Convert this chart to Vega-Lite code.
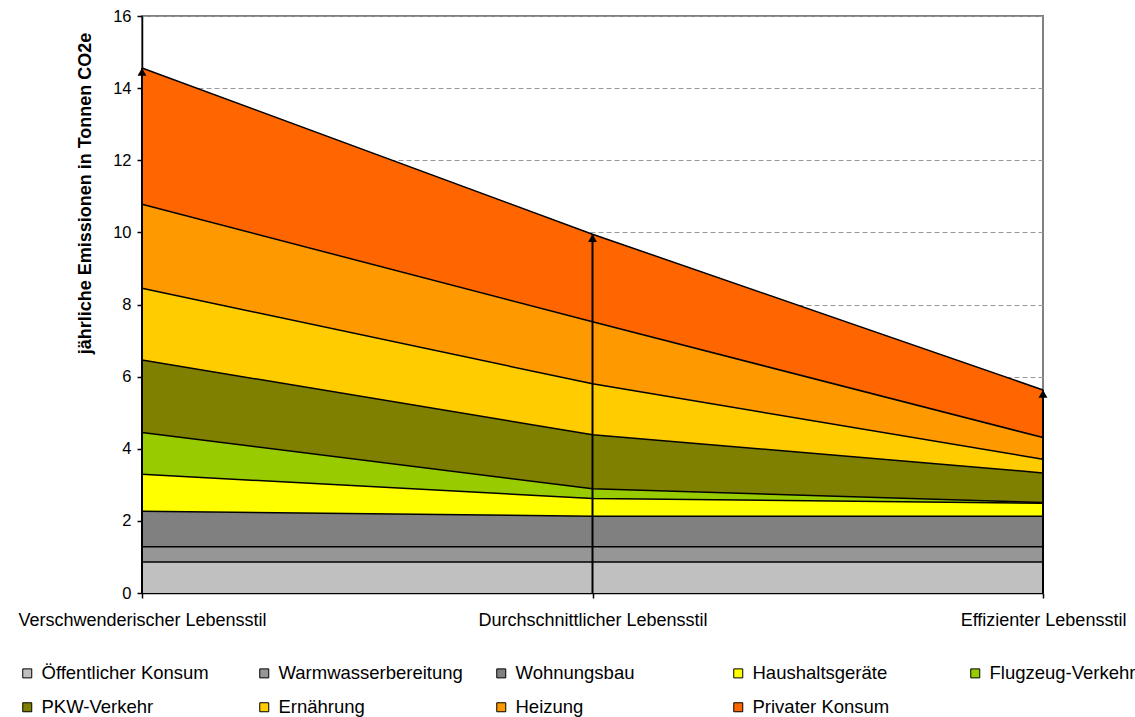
{
  "$schema": "https://vega.github.io/schema/vega-lite/v6.json",
  "width": 901,
  "height": 577,
  "autosize": {"type": "none"},
  "padding": {"left": 142, "top": 16, "right": 92, "bottom": 124},
  "background": "white",
  "config": {
    "font": "Liberation Sans",
    "view": {"stroke": "#808080", "strokeWidth": 2},
    "axis": {"labelFont": "Liberation Sans", "titleFont": "Liberation Sans", "labelFontSize": 16, "labelColor": "black", "domainColor": "black", "tickColor": "black", "domainWidth": 1.5, "tickWidth": 1.5, "tickSize": 5}
  },
  "data": {
    "values": [
      {"stil": "Verschwenderischer Lebensstil", "cat": "Öffentlicher Konsum", "ord": 1, "value": 0.86},
      {"stil": "Verschwenderischer Lebensstil", "cat": "Warmwasserbereitung", "ord": 2, "value": 0.42},
      {"stil": "Verschwenderischer Lebensstil", "cat": "Wohnungsbau", "ord": 3, "value": 0.99},
      {"stil": "Verschwenderischer Lebensstil", "cat": "Haushaltsgeräte", "ord": 4, "value": 1.02},
      {"stil": "Verschwenderischer Lebensstil", "cat": "Flugzeug-Verkehr", "ord": 5, "value": 1.16},
      {"stil": "Verschwenderischer Lebensstil", "cat": "PKW-Verkehr", "ord": 6, "value": 2.01},
      {"stil": "Verschwenderischer Lebensstil", "cat": "Ernährung", "ord": 7, "value": 1.99},
      {"stil": "Verschwenderischer Lebensstil", "cat": "Heizung", "ord": 8, "value": 2.33},
      {"stil": "Verschwenderischer Lebensstil", "cat": "Privater Konsum", "ord": 9, "value": 3.78},
      {"stil": "Durchschnittlicher Lebensstil", "cat": "Öffentlicher Konsum", "ord": 1, "value": 0.86},
      {"stil": "Durchschnittlicher Lebensstil", "cat": "Warmwasserbereitung", "ord": 2, "value": 0.42},
      {"stil": "Durchschnittlicher Lebensstil", "cat": "Wohnungsbau", "ord": 3, "value": 0.85},
      {"stil": "Durchschnittlicher Lebensstil", "cat": "Haushaltsgeräte", "ord": 4, "value": 0.49},
      {"stil": "Durchschnittlicher Lebensstil", "cat": "Flugzeug-Verkehr", "ord": 5, "value": 0.27},
      {"stil": "Durchschnittlicher Lebensstil", "cat": "PKW-Verkehr", "ord": 6, "value": 1.5},
      {"stil": "Durchschnittlicher Lebensstil", "cat": "Ernährung", "ord": 7, "value": 1.41},
      {"stil": "Durchschnittlicher Lebensstil", "cat": "Heizung", "ord": 8, "value": 1.72},
      {"stil": "Durchschnittlicher Lebensstil", "cat": "Privater Konsum", "ord": 9, "value": 2.43},
      {"stil": "Effizienter Lebensstil", "cat": "Öffentlicher Konsum", "ord": 1, "value": 0.86},
      {"stil": "Effizienter Lebensstil", "cat": "Warmwasserbereitung", "ord": 2, "value": 0.42},
      {"stil": "Effizienter Lebensstil", "cat": "Wohnungsbau", "ord": 3, "value": 0.85},
      {"stil": "Effizienter Lebensstil", "cat": "Haushaltsgeräte", "ord": 4, "value": 0.36},
      {"stil": "Effizienter Lebensstil", "cat": "Flugzeug-Verkehr", "ord": 5, "value": 0.02},
      {"stil": "Effizienter Lebensstil", "cat": "PKW-Verkehr", "ord": 6, "value": 0.82},
      {"stil": "Effizienter Lebensstil", "cat": "Ernährung", "ord": 7, "value": 0.38},
      {"stil": "Effizienter Lebensstil", "cat": "Heizung", "ord": 8, "value": 0.6},
      {"stil": "Effizienter Lebensstil", "cat": "Privater Konsum", "ord": 9, "value": 1.32}
    ]
  },
  "encoding": {
    "x": {
      "field": "stil", "type": "nominal",
      "sort": ["Verschwenderischer Lebensstil", "Durchschnittlicher Lebensstil", "Effizienter Lebensstil"],
      "scale": {"type": "point", "padding": 0},
      "axis": {"title": null, "labelAngle": 0, "labelPadding": 13, "labelLimit": 0, "labelOverlap": false, "grid": false, "labelFontSize": 18}
    }
  },
  "layer": [
    {
      "transform": [{"stack": "value", "groupby": ["stil"], "sort": [{"field": "ord", "order": "ascending"}], "as": ["y0", "y1"]}],
      "layer": [
        {
          "mark": {"type": "area", "opacity": 1},
          "encoding": {
            "y": {
              "field": "y1", "type": "quantitative",
              "scale": {"domain": [0, 16], "nice": false},
              "axis": {"values": [0, 2, 4, 6, 8, 10, 12, 14, 16], "title": "jährliche Emissionen in Tonnen CO2e", "titleFontSize": 18, "titleFontWeight": "bold", "titleColor": "black", "titleX": -48, "titleY": 177, "titleAlign": "center", "labelPadding": 6, "labelFontSize": 16.5, "grid": true, "gridColor": "#999999", "gridDash": [5, 3], "gridWidth": 1}
            },
            "y2": {"field": "y0"},
            "color": {
              "field": "cat", "type": "nominal",
              "scale": {
                "domain": ["Öffentlicher Konsum", "Warmwasserbereitung", "Wohnungsbau", "Haushaltsgeräte", "Flugzeug-Verkehr", "PKW-Verkehr", "Ernährung", "Heizung", "Privater Konsum"],
                "range": ["#C0C0C0", "#969696", "#808080", "#FFFF00", "#99CC00", "#808000", "#FFCC00", "#FF9900", "#FF6600"]
              },
              "legend": {
                "title": null, "orient": "none", "legendX": -124, "legendY": 648, "direction": "horizontal", "columns": 5,
                "gridAlign": "all", "columnPadding": 29, "rowPadding": 15, "padding": 0,
                "symbolType": "square", "symbolSize": 81, "symbolStrokeColor": "black", "symbolStrokeWidth": 1, "symbolOpacity": 1,
                "labelFontSize": 18.5, "labelFont": "Liberation Sans", "labelColor": "black", "labelOffset": 5, "labelLimit": 0
              }
            },
            "order": {"field": "ord", "type": "quantitative"}
          }
        },
        {
          "mark": {"type": "line", "color": "black", "strokeWidth": 1.5},
          "encoding": {
            "y": {"field": "y1", "type": "quantitative"},
            "detail": {"field": "cat", "type": "nominal"}
          }
        }
      ]
    },
    {
      "mark": {"type": "rule", "color": "black", "strokeWidth": 2},
      "encoding": {
        "y": {"aggregate": "sum", "field": "value", "type": "quantitative"},
        "y2": {"datum": 0}
      }
    },
    {
      "mark": {"type": "point", "shape": "triangle-up", "filled": true, "color": "black", "size": 80, "opacity": 1, "yOffset": 4},
      "encoding": {
        "y": {"aggregate": "sum", "field": "value", "type": "quantitative"}
      }
    }
  ]
}
